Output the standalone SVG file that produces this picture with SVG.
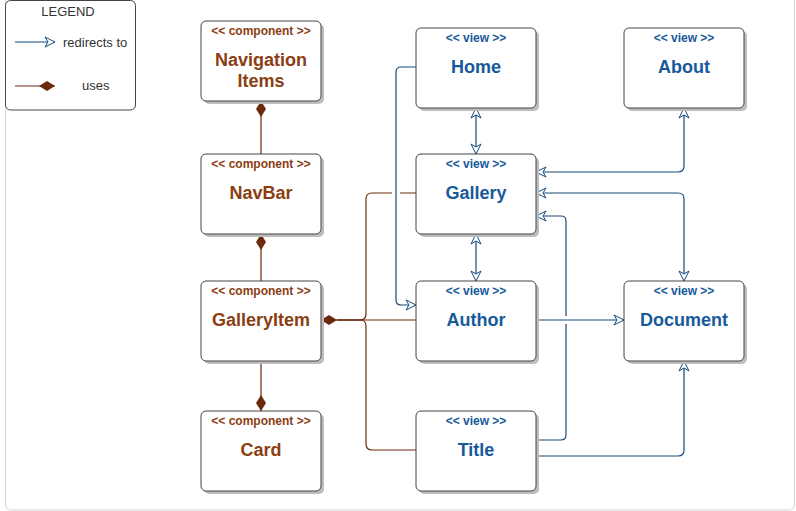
<svg xmlns="http://www.w3.org/2000/svg" width="796" height="511" viewBox="0 0 796 511">
<style>
  .frame{fill:#ffffff;stroke:#d6d6d6;stroke-width:1}
  .legend{fill:#ffffff;stroke:#444444;stroke-width:1}
  .box{fill:#ffffff;stroke:#444444;stroke-width:1}
  .shadow{fill:#bdbdbd}
  .lt{font-family:"Liberation Sans",Arial,sans-serif;font-size:13px;fill:#333333}
  .cst{font-family:"Liberation Sans",Arial,sans-serif;font-size:12px;font-weight:bold;fill:#8a3e12;text-anchor:middle}
  .cti{font-family:"Liberation Sans",Arial,sans-serif;font-size:18px;font-weight:bold;fill:#8a3e12;text-anchor:middle}
  .vst{font-family:"Liberation Sans",Arial,sans-serif;font-size:12px;font-weight:bold;fill:#17599a;text-anchor:middle}
  .vti{font-family:"Liberation Sans",Arial,sans-serif;font-size:18px;font-weight:bold;fill:#17599a;text-anchor:middle}
  .blue{fill:none;stroke:#154a7c;stroke-width:1.2}
  .brown{fill:none;stroke:#6b2a0c;stroke-width:1.2}
</style>
<defs>
  <marker id="arr" viewBox="0 0 12 12" markerWidth="12" markerHeight="12" markerUnits="userSpaceOnUse" refX="11" refY="6" orient="auto-start-reverse">
    <path d="M1,1 L11,6 L1,11 L4,6 Z" fill="#ffffff" stroke="#154a7c" stroke-width="1"/>
  </marker>
  <marker id="dia" viewBox="0 0 16 10" markerWidth="16" markerHeight="10" markerUnits="userSpaceOnUse" refX="0" refY="5" orient="auto">
    <path d="M0,5 L8,0 L16,5 L8,10 Z" fill="#6b2a0c"/>
  </marker>
  <marker id="diaEnd" viewBox="0 0 16 10" markerWidth="16" markerHeight="10" markerUnits="userSpaceOnUse" refX="16" refY="5" orient="auto">
    <path d="M0,5 L8,0 L16,5 L8,10 Z" fill="#6b2a0c"/>
  </marker>
</defs>

<rect class="frame" x="5.5" y="-4.5" width="789" height="514.5" rx="5"/>

<g id="legend">
  <rect class="legend" x="5.5" y="0.5" width="130" height="109.5" rx="5"/>
  <text class="lt" x="68" y="15.5" text-anchor="middle">LEGEND</text>
  <path class="blue" d="M15,42 H55" marker-end="url(#arr)"/>
  <text class="lt" x="63" y="46.5">redirects to</text>
  <path class="brown" d="M15,86 H55" marker-end="url(#diaEnd)"/>
  <text class="lt" x="82" y="90">uses</text>
</g>

<g id="connectors">
  <path class="brown" d="M261,101 V154" marker-start="url(#dia)"/>
  <path class="brown" d="M261,234 V281" marker-start="url(#dia)"/>
  <path class="brown" d="M261,411 V361" marker-start="url(#dia)"/>
  <path class="brown" d="M321,320 H416" marker-start="url(#dia)"/>
  <path class="brown" d="M337,320 H360 Q366,320 366,314 V199 Q366,193 372,193 H392 M400,193 H416"/>
  <path class="brown" d="M337,320 H360 Q366,320 366,326 V444 Q366,450 372,450 H416"/>
  <path class="blue" d="M416,67 H401 Q396,67 396,72 V300 Q396,305 401,305 H416" marker-end="url(#arr)"/>
  <path class="blue" d="M476,108 V154" marker-start="url(#arr)" marker-end="url(#arr)"/>
  <path class="blue" d="M476,234 V281" marker-start="url(#arr)" marker-end="url(#arr)"/>
  <path class="blue" d="M684,108 V166 Q684,172 678,172 H536" marker-start="url(#arr)" marker-end="url(#arr)"/>
  <path class="blue" d="M536,193 H678 Q684,193 684,199 V281" marker-start="url(#arr)" marker-end="url(#arr)"/>
  <path class="blue" d="M536,440 H561 Q566,440 566,435 V324 M566,316 V221 Q566,216 561,216 H536" marker-end="url(#arr)"/>
  <path class="blue" d="M536,456 H678 Q684,456 684,450 V361" marker-end="url(#arr)"/>
  <path class="blue" d="M536,320 H624" marker-end="url(#arr)"/>
</g>

<g id="navigation-items">
  <rect class="shadow" x="204" y="24" width="120" height="80" rx="5"/>
  <rect class="box" x="201" y="21" width="120" height="80" rx="5"/>
  <text class="cst" x="261" y="35">&lt;&lt; component &gt;&gt;</text>
  <text class="cti" x="261" y="66">Navigation</text>
  <text class="cti" x="261" y="87">Items</text>
</g>
<g id="navbar">
  <rect class="shadow" x="204" y="157" width="120" height="80" rx="5"/>
  <rect class="box" x="201" y="154" width="120" height="80" rx="5"/>
  <text class="cst" x="261" y="168">&lt;&lt; component &gt;&gt;</text>
  <text class="cti" x="261" y="199">NavBar</text>
</g>
<g id="galleryitem">
  <rect class="shadow" x="204" y="284" width="120" height="80" rx="5"/>
  <rect class="box" x="201" y="281" width="120" height="80" rx="5"/>
  <text class="cst" x="261" y="295">&lt;&lt; component &gt;&gt;</text>
  <text class="cti" x="261" y="326">GalleryItem</text>
</g>
<g id="card">
  <rect class="shadow" x="204" y="414" width="120" height="80" rx="5"/>
  <rect class="box" x="201" y="411" width="120" height="80" rx="5"/>
  <text class="cst" x="261" y="425">&lt;&lt; component &gt;&gt;</text>
  <text class="cti" x="261" y="456">Card</text>
</g>

<g id="home">
  <rect class="shadow" x="419" y="31" width="120" height="80" rx="5"/>
  <rect class="box" x="416" y="28" width="120" height="80" rx="5"/>
  <text class="vst" x="476" y="42">&lt;&lt; view &gt;&gt;</text>
  <text class="vti" x="476" y="73">Home</text>
</g>
<g id="about">
  <rect class="shadow" x="627" y="31" width="120" height="80" rx="5"/>
  <rect class="box" x="624" y="28" width="120" height="80" rx="5"/>
  <text class="vst" x="684" y="42">&lt;&lt; view &gt;&gt;</text>
  <text class="vti" x="684" y="73">About</text>
</g>
<g id="gallery">
  <rect class="shadow" x="419" y="157" width="120" height="80" rx="5"/>
  <rect class="box" x="416" y="154" width="120" height="80" rx="5"/>
  <text class="vst" x="476" y="168">&lt;&lt; view &gt;&gt;</text>
  <text class="vti" x="476" y="199">Gallery</text>
</g>
<g id="author">
  <rect class="shadow" x="419" y="284" width="120" height="80" rx="5"/>
  <rect class="box" x="416" y="281" width="120" height="80" rx="5"/>
  <text class="vst" x="476" y="295">&lt;&lt; view &gt;&gt;</text>
  <text class="vti" x="476" y="326">Author</text>
</g>
<g id="document">
  <rect class="shadow" x="627" y="284" width="120" height="80" rx="5"/>
  <rect class="box" x="624" y="281" width="120" height="80" rx="5"/>
  <text class="vst" x="684" y="295">&lt;&lt; view &gt;&gt;</text>
  <text class="vti" x="684" y="326">Document</text>
</g>
<g id="title">
  <rect class="shadow" x="419" y="414" width="120" height="80" rx="5"/>
  <rect class="box" x="416" y="411" width="120" height="80" rx="5"/>
  <text class="vst" x="476" y="425">&lt;&lt; view &gt;&gt;</text>
  <text class="vti" x="476" y="456">Title</text>
</g>
</svg>
